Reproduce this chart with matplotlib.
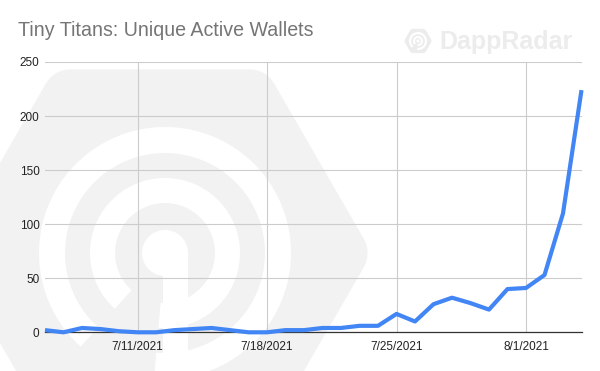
import matplotlib
matplotlib.use("Agg")
import matplotlib.pyplot as plt
import numpy as np
from matplotlib.patches import Polygon, Wedge, Circle, Rectangle

# ---- data ----
dates = ["7/6/2021", "7/7/2021", "7/8/2021", "7/9/2021", "7/10/2021", "7/11/2021",
         "7/12/2021", "7/13/2021", "7/14/2021", "7/15/2021", "7/16/2021", "7/17/2021",
         "7/18/2021", "7/19/2021", "7/20/2021", "7/21/2021", "7/22/2021", "7/23/2021",
         "7/24/2021", "7/25/2021", "7/26/2021", "7/27/2021", "7/28/2021", "7/29/2021",
         "7/30/2021", "7/31/2021", "8/1/2021", "8/2/2021", "8/3/2021", "8/4/2021"]
wallets = [2, 0, 4, 3, 1, 0, 0, 2, 3, 4, 2, 0, 0, 2, 2, 4, 4, 6, 6,
           17, 10, 26, 32, 27, 21, 40, 41, 53, 110, 224]
tick_labels = ["7/11/2021", "7/18/2021", "7/25/2021", "8/1/2021"]
y_ticks = [0, 50, 100, 150, 200, 250]

W, H = 600, 371
fig = plt.figure(figsize=(W / 100, H / 100), dpi=100)
fig.patch.set_facecolor("white")

# ---- watermark layer (pixel coordinates) ----
bg = fig.add_axes([0, 0, 1, 1], zorder=0)
bg.set_xlim(0, W)
bg.set_ylim(H, 0)
bg.axis("off")

def rounded_hex(ax, cx, cy, R, d, color, z=0):
    inr = R * np.sqrt(3) / 2 - d
    Rc = inr / (np.sqrt(3) / 2)
    ang = np.radians(np.arange(0, 360, 60))
    pts = np.column_stack([cx + Rc * np.cos(ang), cy + Rc * np.sin(ang)])
    lw = 2 * d * 0.72
    ax.add_patch(Polygon(pts, closed=True, facecolor=color, edgecolor=color,
                         lw=lw, joinstyle="round", zorder=z))

wm = "#f2f2f2"
rounded_hex(bg, 160, 253, 212, 28, wm)
cx, cy = 165, 253
bg.add_patch(Wedge((cx, cy), 126, 132, 95 + 360, width=26, facecolor="white",
                   edgecolor="none", zorder=1))
bg.add_patch(Wedge((cx, cy), 75, 132, 95 + 360, width=25, facecolor="white",
                   edgecolor="none", zorder=1))
bg.add_patch(Circle((cx, cy), 23, facecolor="white", edgecolor="none", zorder=1))
bg.add_patch(Rectangle((cx - 2, cy), 25, 130, facecolor="white", edgecolor="none", zorder=1))

# small logo + brand text
lc = "#ececec"
rounded_hex(bg, 418, 41, 14, 3, lc)
lx, ly = 418, 41
bg.add_patch(Wedge((lx, ly), 9, 132, 95 + 360, width=2.2, facecolor="white",
                   edgecolor="none", zorder=1))
bg.add_patch(Wedge((lx, ly), 5, 132, 95 + 360, width=2, facecolor="white",
                   edgecolor="none", zorder=1))
bg.add_patch(Circle((lx, ly), 1.6, facecolor="white", edgecolor="none", zorder=1))
bg.text(439, 42, "DappRadar", fontsize=18, fontweight="bold", family="Liberation Sans",
        color=lc, va="center", ha="left")

# title
bg.text(18, 30, "Tiny Titans: Unique Active Wallets", fontsize=14.1,
        family="Liberation Sans", color="#757575", va="center", ha="left")

# ---- main chart ----
ax = fig.add_axes([45 / W, 1 - 332.3 / H, 536.5 / W, 270.3 / H], zorder=2)
ax.set_facecolor("none")
x = np.arange(len(dates))
ax.set_xlim(0, len(dates) - 1)
ax.set_ylim(0, 250)
ax.plot(x, wallets, color="#4285F4", lw=3, solid_joinstyle="round",
        solid_capstyle="butt", clip_on=False, zorder=5)

tick_pos = [dates.index(t) for t in tick_labels]
ax.set_xticks(tick_pos)
ax.set_xticklabels(tick_labels)
ax.set_yticks(y_ticks)
ax.set_yticklabels([str(v) for v in y_ticks])
ax.tick_params(axis="both", length=0, labelsize=8.5, labelcolor="#222222")
ax.tick_params(axis="x", pad=6)
ax.tick_params(axis="y", pad=4)
for lab in ax.get_xticklabels() + ax.get_yticklabels():
    lab.set_family("Liberation Sans")
ax.grid(True, color="#cccccc", lw=0.8)
ax.set_axisbelow(True)
for s in ["top", "right", "left"]:
    ax.spines[s].set_visible(False)
ax.spines["bottom"].set_color("#333333")
ax.spines["bottom"].set_linewidth(0.9)
ax.spines["bottom"].set_zorder(4)

fig.savefig("out.png", dpi=100, facecolor="white")
